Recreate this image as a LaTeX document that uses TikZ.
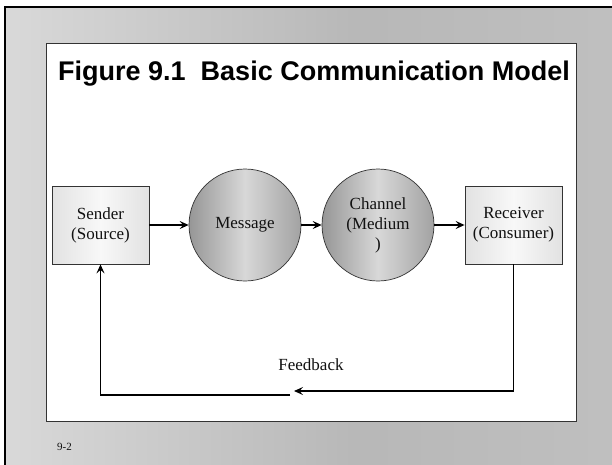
\documentclass[tikz,border=0pt]{standalone}
\usepackage{fontspec}
\setmainfont{Liberation Serif}
\setsansfont{Liberation Sans}
\usetikzlibrary{positioning,calc,arrows.meta}
\definecolor{ink}{HTML}{111111}
\definecolor{edge}{HTML}{333333}
\definecolor{boxlt}{HTML}{F8F8F8}
\definecolor{boxdk}{HTML}{E2E2E2}
\definecolor{discdk}{HTML}{969696}
\definecolor{discrt}{HTML}{A2A2A2}
\definecolor{disclt}{HTML}{D8D8D8}
\pgfdeclarehorizontalshading{slidebg}{100bp}{%
  rgb(0bp)=(.66,.66,.66); rgb(30bp)=(.72,.72,.72); rgb(80bp)=(.82,.82,.82);
  rgb(140bp)=(.74,.74,.74); rgb(220bp)=(.84,.84,.84); rgb(270bp)=(.90,.90,.90);
  rgb(310bp)=(.72,.72,.72); rgb(380bp)=(.82,.82,.82); rgb(430bp)=(.90,.90,.90);
  rgb(480bp)=(.62,.62,.62); rgb(530bp)=(.72,.72,.72); rgb(580bp)=(.86,.86,.86);
  rgb(612bp)=(.68,.68,.68)}
\tikzset{
  ttl/.style    ={font=\sffamily\bfseries\fontsize{27}{30}\selectfont, text=black, anchor=base west, inner sep=0pt},
  party/.style  ={draw=edge, line width=0.8pt, left color=boxdk, right color=boxdk, middle color=boxlt,
                  text=ink, align=center, minimum width=97pt, minimum height=78pt, inner sep=0pt,
                  font=\fontsize{17}{20}\selectfont},
  disc/.style   ={circle, draw=edge, line width=0.7pt, left color=discdk, right color=discrt, middle color=disclt,
                  text=ink, align=center, minimum size=112pt, inner sep=0pt,
                  font=\fontsize{17}{20}\selectfont},
  flow/.style   ={-{Stealth[length=9pt,width=8pt,inset=3.5pt]}, line width=1.5pt, draw=black},
  lab/.style    ={font=\fontsize{17}{20}\selectfont, text=ink, anchor=base},
  pgno/.style   ={font=\fontsize{11}{12}\selectfont, text=ink, anchor=base west, inner sep=0pt},
}
\begin{document}
\begin{tikzpicture}[x=1pt,y=-1pt]
  \useasboundingbox (0,0) rectangle (612,464);

  % ---- slide background ----
  \fill[white] (0,0) rectangle (612,464);
  \shade[shading=slidebg] (5,7) rectangle (612,464);
  \draw[black, line width=1.6pt] (5,470) |- (620,7);
  \draw[edge, line width=0.9pt, fill=white] (46,43) rectangle (576,421);

  % ---- title ----
  \node[ttl] (title) at (58,80) {Figure 9.1\ \ Basic Communication Model};

  % ---- model chain ----
  \node[party] (send) at (100.5,225) {Sender\\(Source)};
  \node[disc]  (msg)  at (245,225)   {Message};
  \node[disc]  (chan) at (378,225)   {Channel\\(Medium\\)};
  \node[party] (recv) at (513.5,225) {Receiver\\(Consumer)};
  \draw[flow] (send.east) -- (msg.west);
  \draw[flow] (msg.east)  -- (chan.west);
  \draw[flow] (chan.east) -- (recv.west);

  % ---- feedback loop ----
  \coordinate (fbend)   at (294,391);
  \coordinate (fbstart) at (290,395);
  \draw[flow] (recv.south) |- (fbend);
  \draw[flow] (fbstart) -| (send.south);
  \node[lab] (fb) at (311,370) {Feedback};

  % ---- page number ----
  \node[pgno] (pg) at (57,450) {9-2};

\end{tikzpicture}
\end{document}
